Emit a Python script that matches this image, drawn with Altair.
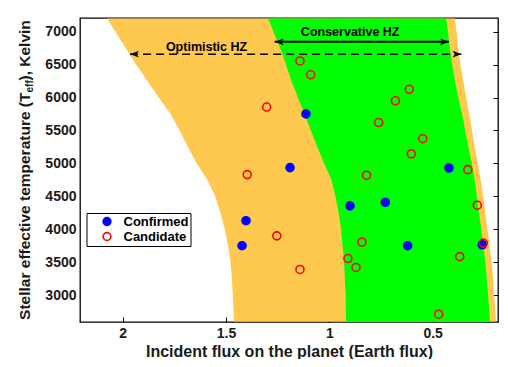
import altair as alt
import pandas as pd

# ---- habitable-zone boundaries (flux in Earth units) at stellar temperatures ----
T_GRID = [2600, 2800, 3000, 3250, 3500, 3750, 4000, 4250, 4500, 4750,
          5000, 5250, 5500, 5750, 6000, 6250, 6500, 6750, 7000, 7200]
OPT_INNER = [1.461, 1.464, 1.467, 1.471, 1.478, 1.490, 1.506, 1.527, 1.552, 1.590,
             1.641, 1.684, 1.724, 1.768, 1.825, 1.880, 1.935, 1.985, 2.035, 2.075]
CONS_INNER = [0.919, 0.920, 0.921, 0.925, 0.928, 0.936, 0.943, 0.955, 0.970, 0.990,
              1.025, 1.058, 1.089, 1.120, 1.152, 1.183, 1.210, 1.238, 1.270, 1.295]
CONS_OUTER = [0.223, 0.227, 0.232, 0.238, 0.245, 0.255, 0.265, 0.276, 0.286, 0.297,
              0.311, 0.327, 0.343, 0.358, 0.376, 0.392, 0.405, 0.417, 0.426, 0.435]
OPT_OUTER = [0.195, 0.198, 0.203, 0.207, 0.215, 0.225, 0.235, 0.245, 0.256, 0.268,
             0.282, 0.296, 0.310, 0.324, 0.338, 0.352, 0.366, 0.377, 0.385, 0.392]

# ---- planets ----
CONF_FLUX = [1.113, 1.19, 1.403, 1.422, 0.90, 0.729, 0.621, 0.26, 0.421]
CONF_TEFF = [5750, 4935, 4130, 3750, 4355, 4410, 3750, 3765, 4930]
CAND_FLUX = [1.142, 1.09, 1.303, 0.613, 0.68, 0.761, 0.548, 0.603, 0.33, 0.82,
             1.397, 0.284, 1.254, 0.842, 0.255, 0.91, 0.871, 0.369, 1.142, 0.471]
CAND_TEFF = [6555, 6345, 5855, 6125, 5950, 5620, 5375, 5145, 4905, 4820,
             4830, 4365, 3900, 3805, 3790, 3555, 3420, 3585, 3390, 2710]
STATUS = ["Confirmed", "Candidate"]

# ---- annotations ----
ANNOT_TEXT = ["Optimistic HZ", "Conservative HZ"]
ANNOT_FLUX = [1.594, 0.899]
ANNOT_TEFF = [6773, 6990]
ARROW_NAME = ["Conservative", "Optimistic"]
ARROW_TEFF = [6845, 6658]
ARROW_FROM = [1.264, 1.964]
ARROW_TO = [0.421, 0.361]

X_TICKS = [2, 1.5, 1, 0.5]
Y_TICKS = [3000, 3500, 4000, 4500, 5000, 5500, 6000, 6500, 7000]
FONT = "Liberation Sans"

hz = pd.DataFrame({"teff": T_GRID, "opt_in": OPT_INNER, "cons_in": CONS_INNER,
                   "cons_out": CONS_OUTER, "opt_out": OPT_OUTER})
pts = pd.DataFrame({
    "flux": CONF_FLUX + CAND_FLUX,
    "teff": CONF_TEFF + CAND_TEFF,
    "status": [STATUS[0]] * len(CONF_FLUX) + [STATUS[1]] * len(CAND_FLUX),
})
ann = pd.DataFrame({"label": ANNOT_TEXT, "flux": ANNOT_FLUX, "teff": ANNOT_TEFF})
arr = pd.DataFrame({"name": ARROW_NAME, "teff": ARROW_TEFF, "x1": ARROW_FROM, "x2": ARROW_TO})

xscale = alt.Scale(domain=[0.184, 2.206], reverse=True, nice=False, zero=False)
yscale = alt.Scale(domain=[2592, 7207], nice=False, zero=False)

lab = dict(labelFont=FONT, labelFontSize=14, labelFontWeight="bold", labelColor="#1a1a1a",
           tickColor="black", tickWidth=1, grid=False, domain=False)

bottom_axis = alt.Axis(orient="bottom", values=X_TICKS, format="~g", offset=-5, tickSize=5,
                       labelPadding=4, title="Incident flux on the planet (Earth flux)",
                       titleFont=FONT, titleFontSize=16, titleFontWeight="bold",
                       titleColor="#1a1a1a", titlePadding=3, **lab)
top_axis = alt.Axis(orient="top", values=X_TICKS, offset=-5, tickSize=5, labels=False,
                    title=None, tickColor="black", grid=False, domain=False)
left_axis = alt.Axis(orient="left", values=Y_TICKS, format="d", ticks=False, tickSize=0,
                     labelPadding=4, title=None, **lab)
right_axis = alt.Axis(orient="right", values=Y_TICKS, offset=-5, tickSize=5, labels=False,
                      title=None, tickColor="black", grid=False, domain=False)

orange = alt.Chart(hz).mark_area(orient="horizontal", color="#FFC84F", clip=True).encode(
    y=alt.Y("teff:Q", scale=yscale, axis=left_axis),
    x=alt.X("opt_in:Q", scale=xscale, axis=bottom_axis),
    x2="opt_out:Q",
)
green = alt.Chart(hz).mark_area(orient="horizontal", color="#00FF00", clip=True).encode(
    y=alt.Y("teff:Q", scale=yscale, axis=right_axis),
    x=alt.X("cons_in:Q", scale=xscale, axis=top_axis),
    x2="cons_out:Q",
)

cons_line = alt.Chart(arr).transform_filter(alt.datum.name == "Conservative").mark_rule(
    color="black", strokeWidth=2).encode(
    y=alt.Y("teff:Q", scale=yscale, axis=None),
    x=alt.X("x1:Q", scale=xscale, axis=None), x2="x2:Q")
opt_line = alt.Chart(arr).transform_filter(alt.datum.name == "Optimistic").mark_rule(
    color="black", strokeWidth=1.5, strokeDash=[8, 5]).encode(
    y=alt.Y("teff:Q", scale=yscale, axis=None),
    x=alt.X("x1:Q", scale=xscale, axis=None), x2="x2:Q")

RIGHT_HEAD = "M1,0 L-1,-0.75 L-0.45,0 L-1,0.75 Z"
LEFT_HEAD = "M-1,0 L1,-0.75 L0.45,0 L1,0.75 Z"
head_left = alt.Chart(arr).mark_point(shape=LEFT_HEAD, size=81, filled=True, color="black",
                                      opacity=1, xOffset=4.5).encode(
    y=alt.Y("teff:Q", scale=yscale, axis=None),
    x=alt.X("x1:Q", scale=xscale, axis=None))
head_right = alt.Chart(arr).mark_point(shape=RIGHT_HEAD, size=81, filled=True, color="black",
                                       opacity=1, xOffset=-4.5).encode(
    y=alt.Y("teff:Q", scale=yscale, axis=None),
    x=alt.X("x2:Q", scale=xscale, axis=None))

texts = alt.Chart(ann).mark_text(font=FONT, fontSize=12.5, fontWeight="bold", color="black").encode(
    x=alt.X("flux:Q", scale=xscale, axis=None),
    y=alt.Y("teff:Q", scale=yscale, axis=None),
    text="label:N",
)

leg = alt.Legend(orient="none", legendX=6.5, legendY=195, title=None,
                 strokeColor="black", fillColor="white", padding=2,
                 labelFont=FONT, labelFontSize=13, labelFontWeight="bold", labelColor="black",
                 symbolSize=60, symbolStrokeWidth=1.6, rowPadding=0,
                 symbolOffset=12, labelOffset=10, symbolType="circle")
points = alt.Chart(pts).mark_point(shape="circle", size=64, strokeWidth=1.6, opacity=1).encode(
    x=alt.X("flux:Q", scale=xscale, axis=None),
    y=alt.Y("teff:Q", scale=yscale, axis=None),
    stroke=alt.Stroke("status:N", scale=alt.Scale(domain=STATUS, range=["#0000FF", "#FF0000"]),
                      legend=leg),
    fill=alt.Fill("status:N", scale=alt.Scale(domain=STATUS, range=["#0000FF", "transparent"]),
                  legend=leg),
)

# y-axis title with a subscript, built from three text pieces
YT_MAIN = "Stellar effective temperature (T"
YT_SUB = "eff"
YT_END = "), Kelvin"
yt1 = alt.Chart(pd.DataFrame({"t": [YT_MAIN]})).mark_text(
    font=FONT, fontSize=15.5, fontWeight="bold", color="#1a1a1a", angle=270,
    align="right", baseline="middle").encode(
    x=alt.value(-55), y=alt.value(74.5), text="t:N")
yt2 = alt.Chart(pd.DataFrame({"t": [YT_SUB]})).mark_text(
    font=FONT, fontSize=10, fontWeight="bold", color="#1a1a1a", angle=270,
    align="left", baseline="middle").encode(
    x=alt.value(-50), y=alt.value(74.5), text="t:N")
yt3 = alt.Chart(pd.DataFrame({"t": [YT_END]})).mark_text(
    font=FONT, fontSize=15.5, fontWeight="bold", color="#1a1a1a", angle=270,
    align="left", baseline="middle").encode(
    x=alt.value(-55), y=alt.value(62.5), text="t:N")

chart = alt.layer(orange, green, opt_line, cons_line, head_left, head_right, texts, points,
                  yt1, yt2, yt3).resolve_scale(x="shared", y="shared").resolve_axis(
    x="independent", y="independent").properties(
    width=418, height=304, autosize="none",
    padding={"left": 72, "top": 10, "right": 2, "bottom": 37},
    background="white",
).configure_view(stroke="black", strokeWidth=1.3)

chart.save("out.html", embed_options={"renderer": "svg", "actions": False})
